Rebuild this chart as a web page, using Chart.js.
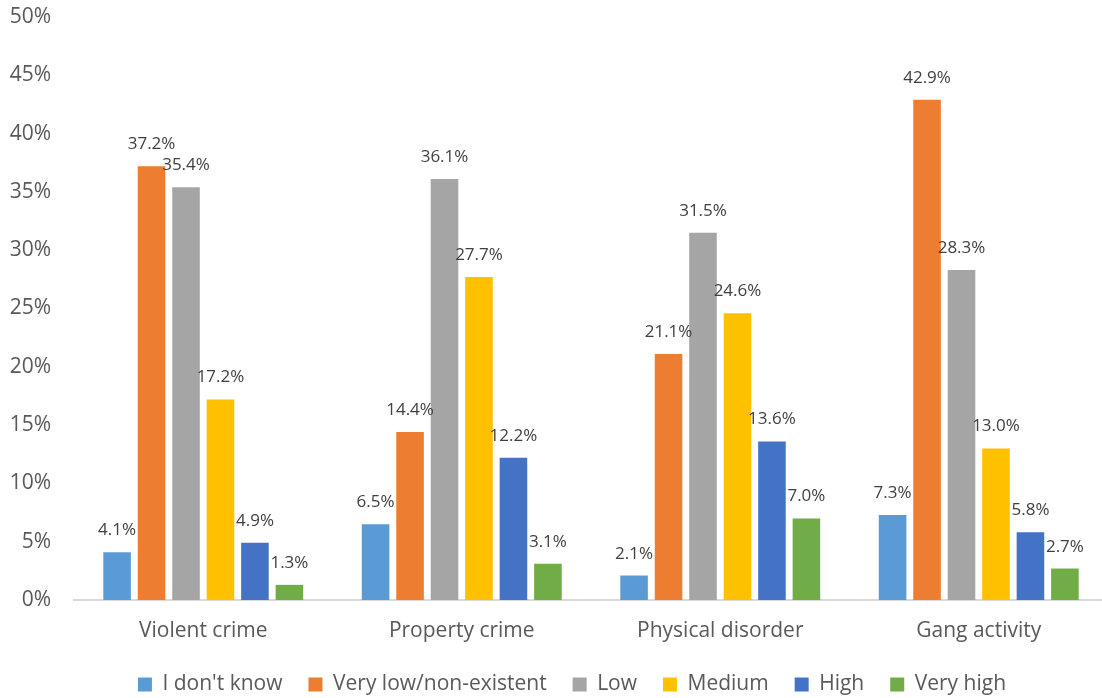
<!DOCTYPE html>
<html>
<head>
<meta charset="utf-8">
<script src="https://cdn.jsdelivr.net/npm/chart.js@4"></script>
<style>
  html, body { margin: 0; padding: 0; background: #fff; overflow: hidden; }
</style>
</head>
<body>
<canvas id="chart" width="1108" height="698"></canvas>
<script>
// chart values (percent)
const categories = ['Violent crime', 'Property crime', 'Physical disorder', 'Gang activity'];
const seriesNames = ["I don't know", 'Very low/non-existent', 'Low', 'Medium', 'High', 'Very high'];
const dontKnow = [4.1, 6.5, 2.1, 7.3];
const veryLow = [37.2, 14.4, 21.1, 42.9];
const low = [35.4, 36.1, 31.5, 28.3];
const medium = [17.2, 27.7, 24.6, 13.0];
const high = [4.9, 12.2, 13.6, 5.8];
const veryHigh = [1.3, 3.1, 7.0, 2.7];
const yTicks = [0, 5, 10, 15, 20, 25, 30, 35, 40, 45, 50];

const colors = ['#5B9BD5', '#ED7D31', '#A5A5A5', '#FFC000', '#4472C4', '#70AD47'];
const seriesValues = [dontKnow, veryLow, low, medium, high, veryHigh];

const FONT = "'Open Sans', sans-serif";
const FONT_SIZE = 21;

// value labels above each bar
const barLabels = {
  id: 'barLabels',
  afterDatasetsDraw(chart) {
    const ctx = chart.ctx;
    ctx.save();
    ctx.font = '17px ' + FONT;
    ctx.fillStyle = '#404040';
    ctx.textAlign = 'center';
    ctx.textBaseline = 'alphabetic';
    chart.data.datasets.forEach((ds, i) => {
      const meta = chart.getDatasetMeta(i);
      meta.data.forEach((bar, j) => {
        ctx.fillText(ds.data[j].toFixed(1) + '%', bar.x, bar.y - 17);
      });
    });
    ctx.restore();
  }
};

// legend sits a bit right of centre in the original
const legendShift = {
  id: 'legendShift',
  afterLayout(chart) {
    chart.legend.left += 36;
  }
};

new Chart(document.getElementById('chart'), {
  type: 'bar',
  data: {
    labels: categories,
    datasets: seriesNames.map((name, i) => ({
      label: name,
      data: seriesValues[i],
      backgroundColor: colors[i],
      borderWidth: 0,
      categoryPercentage: 0.8,
      barPercentage: 0.8
    }))
  },
  options: {
    responsive: false,
    animation: false,
    layout: { padding: { top: 0, left: 0, right: 0, bottom: -7 } },
    plugins: {
      tooltip: { enabled: false },
      legend: {
        position: 'bottom',
        labels: {
          boxWidth: 14,
          boxHeight: 14,
          padding: 26,
          color: '#595959',
          font: { family: FONT, size: FONT_SIZE }
        }
      }
    },
    scales: {
      x: {
        afterFit(scale) { scale.height = 48; },
        grid: { display: false, drawTicks: false },
        border: { display: true, color: '#D9D9D9', width: 2 },
        ticks: { color: '#595959', padding: 18, font: { family: FONT, size: FONT_SIZE } }
      },
      y: {
        min: 0,
        max: 50,
        afterFit(scale) {
          scale.width = 74;
          scale.paddingTop = 17;
          scale.paddingBottom = 0;
        },
        afterBuildTicks(scale) { scale.ticks = yTicks.map(v => ({ value: v })); },
        grid: { display: false, drawTicks: false },
        border: { display: false },
        ticks: {
          color: '#595959',
          padding: 23,
          font: { family: FONT, size: FONT_SIZE },
          callback: v => v + '%'
        }
      }
    }
  },
  plugins: [barLabels, legendShift]
});
</script>
</body>
</html>
